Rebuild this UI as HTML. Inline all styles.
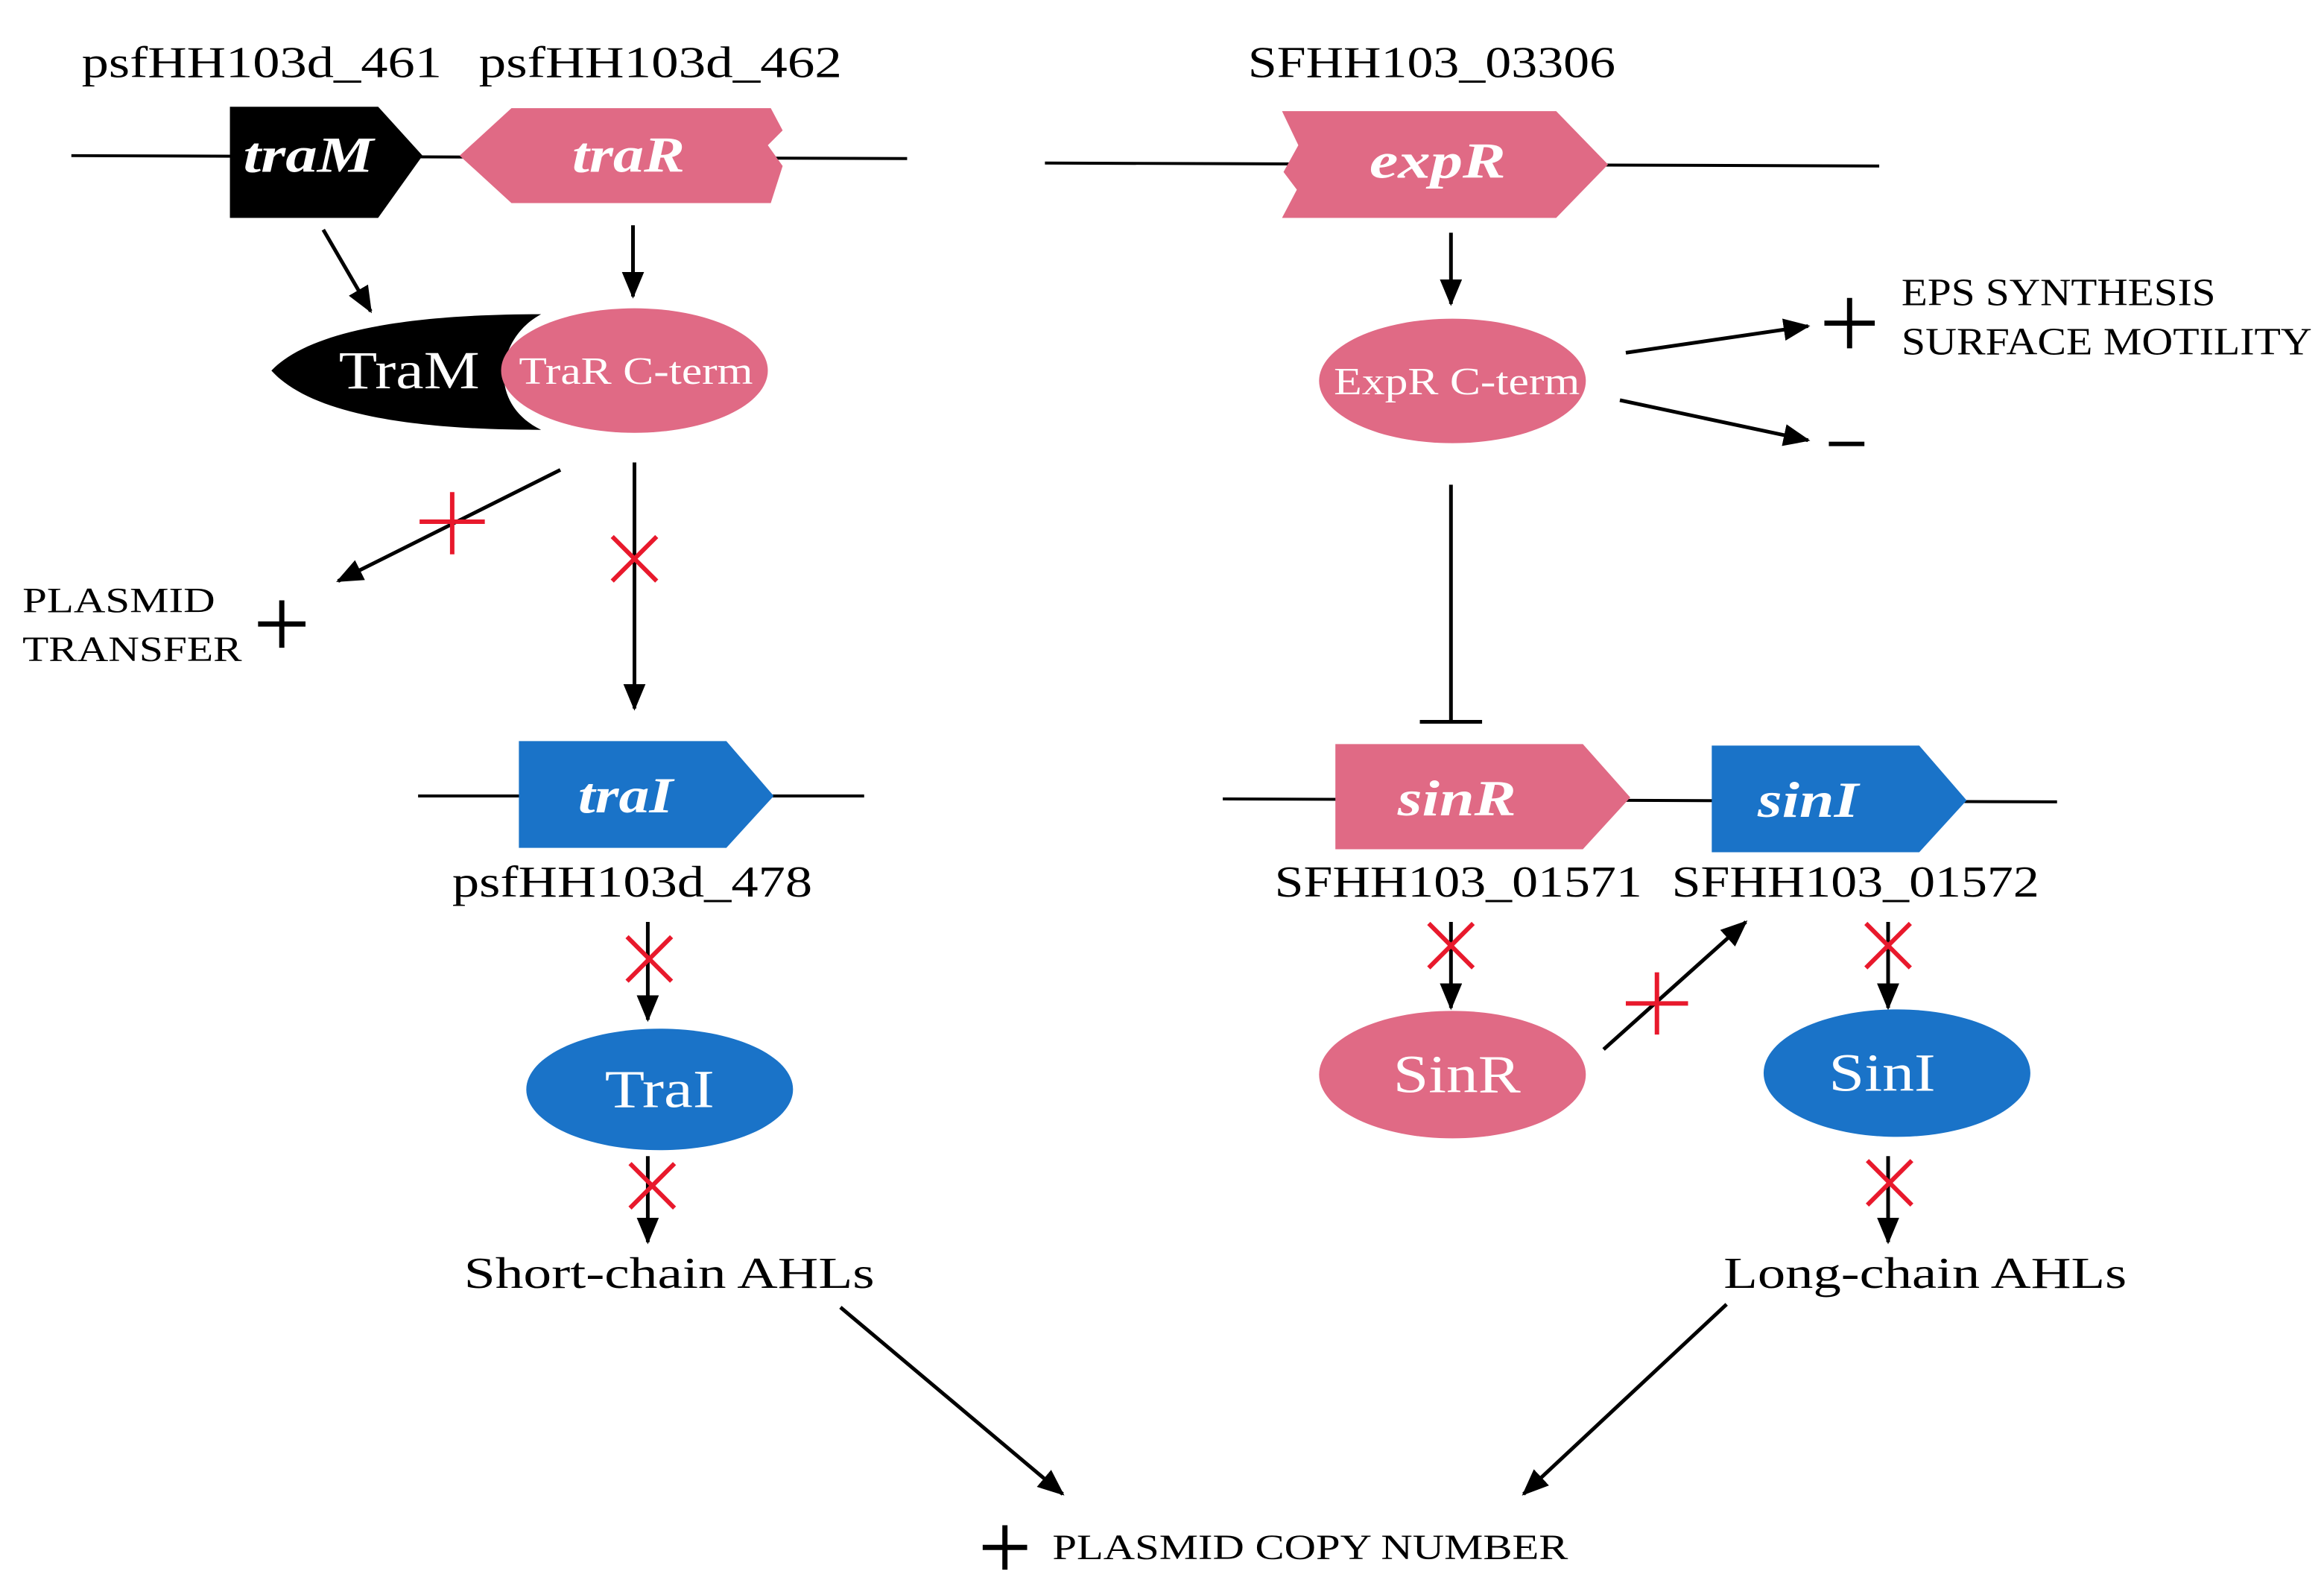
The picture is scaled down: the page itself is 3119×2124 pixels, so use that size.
<!DOCTYPE html>
<html><head><meta charset="utf-8"><style>
html,body{margin:0;padding:0;background:#fff}
svg{display:block}
text{font-family:"Liberation Serif",serif}
</style></head><body>
<svg width="3119" height="2124" viewBox="0 0 1568 1068" xmlns="http://www.w3.org/2000/svg">
<defs>
<marker id="a" viewBox="0 0 12 10" refX="11" refY="5" markerWidth="18" markerHeight="15" orient="auto" markerUnits="userSpaceOnUse">
<path d="M0,0 L12,5 L0,10 Z" fill="#000"/>
</marker>
</defs>
<rect width="1568" height="1068" fill="#fff"/>
<g font-size="30" fill="#000" lengthAdjust="spacingAndGlyphs">
<text x="55" y="52" textLength="243" lengthAdjust="spacingAndGlyphs">psfHH103d_461</text>
<text x="323" y="52" textLength="245" lengthAdjust="spacingAndGlyphs">psfHH103d_462</text>
<text x="842" y="52" textLength="248" lengthAdjust="spacingAndGlyphs">SFHH103_03306</text>
</g>
<line x1="48" y1="105" x2="612" y2="107" stroke="#000" stroke-width="2"/>
<line x1="705" y1="110" x2="1268" y2="112" stroke="#000" stroke-width="2"/>
<polygon points="155,72 255,72 285,105 255,147 155,147" fill="#000"/>
<text x="208" y="116" font-size="34" font-weight="bold" font-style="italic" fill="#fff" text-anchor="middle" textLength="88" lengthAdjust="spacingAndGlyphs">traM</text>
<polygon points="310,105 345,73 520,73 528,88 518,98 528,112 520,137 345,137" fill="#e06a85"/>
<text x="424" y="116" font-size="34" font-weight="bold" font-style="italic" fill="#fff" text-anchor="middle" textLength="76" lengthAdjust="spacingAndGlyphs">traR</text>
<polygon points="865,75 1050,75 1085,111 1050,147 865,147 875,128 866,116 876,98" fill="#e06a85"/>
<text x="970" y="120" font-size="34" font-weight="bold" font-style="italic" fill="#fff" text-anchor="middle" textLength="92" lengthAdjust="spacingAndGlyphs">expR</text>
<g stroke="#000" stroke-width="2.5" fill="none">
<line x1="218" y1="155" x2="250" y2="210" marker-end="url(#a)"/>
<line x1="427" y1="152" x2="427" y2="200" marker-end="url(#a)"/>
<line x1="979" y1="157" x2="979" y2="205" marker-end="url(#a)"/>
<line x1="1097" y1="238" x2="1220" y2="220" marker-end="url(#a)"/>
<line x1="1093" y1="270" x2="1220" y2="297" marker-end="url(#a)"/>
<line x1="378" y1="317" x2="228" y2="392" marker-end="url(#a)"/>
<line x1="428" y1="312" x2="428" y2="478" marker-end="url(#a)"/>
<line x1="979" y1="327" x2="979" y2="487"/>
<line x1="958" y1="487" x2="1000" y2="487"/>
<line x1="437" y1="622" x2="437" y2="688" marker-end="url(#a)"/>
<line x1="437" y1="780" x2="437" y2="838" marker-end="url(#a)"/>
<line x1="979" y1="622" x2="979" y2="680" marker-end="url(#a)"/>
<line x1="1082" y1="708" x2="1178" y2="622" marker-end="url(#a)"/>
<line x1="1274" y1="622" x2="1274" y2="680" marker-end="url(#a)"/>
<line x1="1274" y1="780" x2="1274" y2="838" marker-end="url(#a)"/>
<line x1="567" y1="882" x2="717" y2="1008" marker-end="url(#a)"/>
<line x1="1165" y1="880" x2="1028" y2="1008" marker-end="url(#a)"/>
</g>
<path d="M183,250 C210,222 280,212 365,212 C335,228 328,272 365,290 C280,290 210,280 183,250 Z" fill="#000"/>
<text x="276" y="262" font-size="36" fill="#fff" text-anchor="middle" textLength="95" lengthAdjust="spacingAndGlyphs">TraM</text>
<ellipse cx="428" cy="250" rx="90" ry="42" fill="#e06a85"/>
<text x="429" y="259" font-size="26" fill="#fff" text-anchor="middle" textLength="158" lengthAdjust="spacingAndGlyphs">TraR C-term</text>
<ellipse cx="980" cy="257" rx="90" ry="42" fill="#e06a85"/>
<text x="983" y="266" font-size="26" fill="#fff" text-anchor="middle" textLength="166" lengthAdjust="spacingAndGlyphs">ExpR C-term</text>
<g stroke="#000" stroke-width="3.5">
<line x1="1231" y1="218" x2="1265" y2="218"/><line x1="1248" y1="201" x2="1248" y2="235"/>
<line x1="174" y1="421" x2="206" y2="421"/><line x1="190" y1="405" x2="190" y2="437"/>
<line x1="663" y1="1044" x2="693" y2="1044"/><line x1="678" y1="1029" x2="678" y2="1059"/>
</g>
<text x="1283" y="206" font-size="26" textLength="212" lengthAdjust="spacingAndGlyphs">EPS SYNTHESIS</text>
<text x="1283" y="239" font-size="26" textLength="277" lengthAdjust="spacingAndGlyphs">SURFACE MOTILITY</text>
<rect x="1234" y="298" width="24" height="3" fill="#000"/>
<text x="15" y="413" font-size="24" textLength="130" lengthAdjust="spacingAndGlyphs">PLASMID</text>
<text x="15" y="446" font-size="24" textLength="148" lengthAdjust="spacingAndGlyphs">TRANSFER</text>
<g stroke="#e8192c" stroke-width="3">
<line x1="305" y1="332" x2="305" y2="374"/><line x1="283" y1="352" x2="327" y2="352"/>
<line x1="413" y1="362" x2="443" y2="392"/><line x1="443" y1="362" x2="413" y2="392"/>
<line x1="423" y1="632" x2="453" y2="662"/><line x1="453" y1="632" x2="423" y2="662"/>
<line x1="425" y1="785" x2="455" y2="815"/><line x1="455" y1="785" x2="425" y2="815"/>
<line x1="964" y1="623" x2="994" y2="653"/><line x1="994" y1="623" x2="964" y2="653"/>
<line x1="1118" y1="656" x2="1118" y2="698"/><line x1="1097" y1="677" x2="1139" y2="677"/>
<line x1="1259" y1="623" x2="1289" y2="653"/><line x1="1289" y1="623" x2="1259" y2="653"/>
<line x1="1260" y1="783" x2="1290" y2="813"/><line x1="1290" y1="783" x2="1260" y2="813"/>
</g>
<line x1="282" y1="537" x2="583" y2="537" stroke="#000" stroke-width="2"/>
<polygon points="350,500 490,500 522,537 490,572 350,572" fill="#1a73c8"/>
<text x="422" y="548" font-size="34" font-weight="bold" font-style="italic" fill="#fff" text-anchor="middle" textLength="64" lengthAdjust="spacingAndGlyphs">traI</text>
<text x="305" y="605" font-size="30" textLength="243" lengthAdjust="spacingAndGlyphs">psfHH103d_478</text>
<line x1="825" y1="539" x2="1388" y2="541" stroke="#000" stroke-width="2"/>
<polygon points="901,502 1068,502 1100,538 1068,573 901,573" fill="#e06a85"/>
<text x="983" y="550" font-size="34" font-weight="bold" font-style="italic" fill="#fff" text-anchor="middle" textLength="80" lengthAdjust="spacingAndGlyphs">sinR</text>
<polygon points="1155,503 1295,503 1327,540 1295,575 1155,575" fill="#1a73c8"/>
<text x="1220" y="551" font-size="34" font-weight="bold" font-style="italic" fill="#fff" text-anchor="middle" textLength="68" lengthAdjust="spacingAndGlyphs">sinI</text>
<text x="860" y="605" font-size="30" textLength="248" lengthAdjust="spacingAndGlyphs">SFHH103_01571</text>
<text x="1128" y="605" font-size="30" textLength="248" lengthAdjust="spacingAndGlyphs">SFHH103_01572</text>
<ellipse cx="445" cy="735" rx="90" ry="41" fill="#1a73c8"/>
<text x="445" y="747" font-size="36" fill="#fff" text-anchor="middle" textLength="74" lengthAdjust="spacingAndGlyphs">TraI</text>
<ellipse cx="980" cy="725" rx="90" ry="43" fill="#e06a85"/>
<text x="983" y="737" font-size="36" fill="#fff" text-anchor="middle" textLength="86" lengthAdjust="spacingAndGlyphs">SinR</text>
<ellipse cx="1280" cy="724" rx="90" ry="43" fill="#1a73c8"/>
<text x="1270" y="736" font-size="36" fill="#fff" text-anchor="middle" textLength="72" lengthAdjust="spacingAndGlyphs">SinI</text>
<text x="313" y="869" font-size="30" textLength="277" lengthAdjust="spacingAndGlyphs">Short-chain AHLs</text>
<text x="1163" y="869" font-size="30" textLength="272" lengthAdjust="spacingAndGlyphs">Long-chain AHLs</text>
<text x="710" y="1052" font-size="24" textLength="348" lengthAdjust="spacingAndGlyphs">PLASMID COPY NUMBER</text>
</svg>
</body></html>
